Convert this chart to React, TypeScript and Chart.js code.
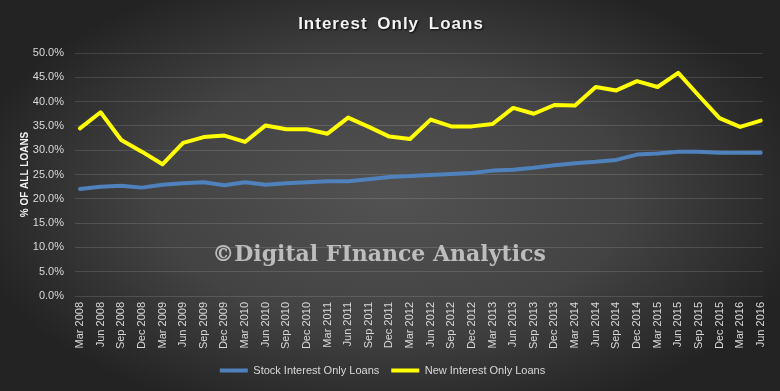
import React, { useEffect, useRef } from "react";
import { Chart, registerables } from "chart.js";

Chart.register(...registerables);

const categories = [
  "Mar 2008", "Jun 2008", "Sep 2008", "Dec 2008",
  "Mar 2009", "Jun 2009", "Sep 2009", "Dec 2009",
  "Mar 2010", "Jun 2010", "Sep 2010", "Dec 2010",
  "Mar 2011", "Jun 2011", "Sep 2011", "Dec 2011",
  "Mar 2012", "Jun 2012", "Sep 2012", "Dec 2012",
  "Mar 2013", "Jun 2013", "Sep 2013", "Dec 2013",
  "Mar 2014", "Jun 2014", "Sep 2014", "Dec 2014",
  "Mar 2015", "Jun 2015", "Sep 2015", "Dec 2015",
  "Mar 2016", "Jun 2016",
];

const stockInterestOnly = [
  22.0, 22.5, 22.7, 22.3, 22.9, 23.2, 23.4, 22.8, 23.4, 22.9, 23.2, 23.4,
  23.6, 23.6, 24.0, 24.5, 24.7, 24.9, 25.1, 25.3, 25.8, 26.0, 26.4, 26.9,
  27.3, 27.6, 28.0, 29.1, 29.3, 29.7, 29.7, 29.5, 29.5, 29.5,
];

const newInterestOnly = [
  34.5, 37.8, 32.1, 29.7, 27.1, 31.5, 32.7, 33.0, 31.7, 35.1, 34.3, 34.3,
  33.4, 36.7, 34.8, 32.8, 32.3, 36.3, 34.9, 34.9, 35.4, 38.7, 37.5, 39.3,
  39.2, 43.0, 42.3, 44.2, 43.0, 45.9, 41.2, 36.6, 34.8, 36.1,
];

const seriesNames = ["Stock Interest Only Loans", "New Interest Only Loans"];
const chartTitle = "Interest Only Loans";
const yAxisTitle = "% OF ALL LOANS";
const watermark = "\u00A9Digital FInance Analytics";
const yMin = 0;
const yMax = 50;
const yStep = 5;

const bgPlugin = {
  id: "bgPlugin",
  beforeDraw(chart: any) {
    const { ctx, width, height } = chart;
    ctx.save();
    ctx.fillStyle = "#232323";
    ctx.fillRect(0, 0, width, height);
    ctx.translate(width * 0.5, height * 0.5);
    ctx.scale(1, 0.55);
    const g = ctx.createRadialGradient(0, 0, 0, 0, 0, width * 0.55);
    g.addColorStop(0, "#525252");
    g.addColorStop(0.55, "#434343");
    g.addColorStop(1, "#232323");
    ctx.fillStyle = g;
    ctx.fillRect(-width, -height * 2, width * 2, height * 4);
    ctx.restore();
  },
};

const titlePlugin = {
  id: "titlePlugin",
  afterDraw(chart: any) {
    const { ctx, width } = chart;
    ctx.save();
    ctx.font = "bold 17px 'Liberation Sans', Arial, sans-serif";
    try {
      (ctx as any).letterSpacing = "1px";
      (ctx as any).wordSpacing = "4px";
    } catch (e) {}
    ctx.textAlign = "center";
    ctx.textBaseline = "middle";
    ctx.shadowColor = "rgba(0,0,0,0.85)";
    ctx.shadowOffsetX = 1;
    ctx.shadowOffsetY = 1.5;
    ctx.shadowBlur = 2;
    ctx.fillStyle = "#f2f2f2";
    ctx.fillText(chartTitle, width / 2 + 1, 24);
    ctx.restore();
  },
};

const watermarkPlugin = {
  id: "watermarkPlugin",
  afterDatasetsDraw(chart: any) {
    const { ctx } = chart;
    ctx.save();
    ctx.font = "bold 22px 'DejaVu Serif', serif";
    ctx.textAlign = "center";
    ctx.textBaseline = "middle";
    ctx.fillStyle = "rgba(205,205,205,0.88)";
    ctx.fillText(watermark, 379, 255);
    ctx.restore();
  },
};

export default function App() {
  const canvasRef = useRef<HTMLCanvasElement | null>(null);

  useEffect(() => {
    if (!canvasRef.current) return;
    const chart = new Chart(canvasRef.current, {
      type: "line",
      data: {
        datasets: [
          {
            label: seriesNames[0],
            data: stockInterestOnly.map((v, i) => ({ x: i, y: v })),
            borderColor: "#4f81bd",
            backgroundColor: "#4f81bd",
            borderWidth: 4,
            pointRadius: 0,
            borderJoinStyle: "round",
            borderCapStyle: "round",
            tension: 0,
          },
          {
            label: seriesNames[1],
            data: newInterestOnly.map((v, i) => ({ x: i, y: v })),
            borderColor: "#ffff00",
            backgroundColor: "#ffff00",
            borderWidth: 4,
            pointRadius: 0,
            borderJoinStyle: "round",
            borderCapStyle: "round",
            tension: 0,
          },
        ],
      },
      options: {
        animation: false,
        responsive: false,
        maintainAspectRatio: false,
        layout: { padding: { top: 53, right: 15, bottom: 5, left: 0 } },
        plugins: {
          title: { display: false },
          tooltip: { enabled: false },
          legend: {
            position: "bottom",
            labels: {
              color: "#d9d9d9",
              font: { family: "'Liberation Sans', Arial, sans-serif", size: 11 },
              usePointStyle: true,
              pointStyle: "line",
              pointStyleWidth: 28,
              padding: 12,
            },
          },
        },
        scales: {
          x: {
            type: "linear",
            min: -0.24,
            max: 33.1,
            afterBuildTicks(scale: any) {
              scale.ticks = categories.map((_, i) => ({ value: i }));
            },
            afterFit(scale: any) {
              scale.height = 57;
            },
            grid: { display: false, drawTicks: false },
            border: { display: false },
            ticks: {
              autoSkip: false,
              maxRotation: 90,
              minRotation: 90,
              padding: 6,
              color: "#d9d9d9",
              font: { family: "'Liberation Sans', Arial, sans-serif", size: 11 },
              callback: (v: any) => categories[Math.round(Number(v))] ?? "",
            },
          },
          y: {
            min: yMin,
            max: yMax,
            afterFit(scale: any) {
              scale.width = 75;
            },
            grid: { color: "rgba(255,255,255,0.13)", lineWidth: 1, drawTicks: false },
            border: { display: false },
            ticks: {
              stepSize: yStep,
              padding: 11,
              color: "#d9d9d9",
              font: { family: "'Liberation Sans', Arial, sans-serif", size: 11 },
              callback: (v: any) => Number(v).toFixed(1) + "%",
            },
            title: {
              display: true,
              text: yAxisTitle,
              color: "#f2f2f2",
              font: { family: "'Liberation Sans', Arial, sans-serif", size: 10, weight: "bold" },
              padding: { top: 19, bottom: 0 },
            },
          },
        },
      },
      plugins: [bgPlugin, watermarkPlugin, titlePlugin],
    } as any);
    return () => chart.destroy();
  }, []);

  return (
    <div style={{ position: "fixed", left: 0, top: 0, width: 780, height: 391 }}>
      <canvas ref={canvasRef} width={780} height={391} style={{ width: 780, height: 391, display: "block" }} />
    </div>
  );
}
